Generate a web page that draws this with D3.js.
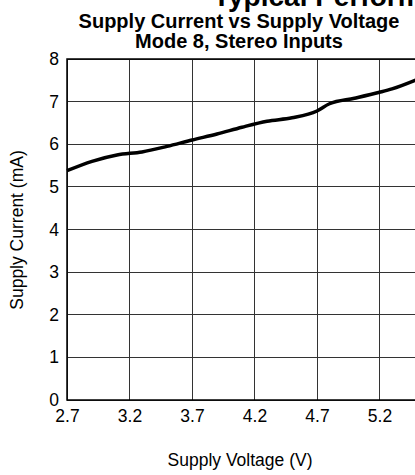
<!DOCTYPE html>
<html><head><meta charset="utf-8">
<script src="https://cdn.jsdelivr.net/npm/d3@7"></script>
<style>html,body{margin:0;padding:0;background:#fff;overflow:hidden}svg{display:block}</style>
</head><body>
<script>
const titleMain = "Typical Performance Characteristics";
const titleLines = ["Supply Current vs Supply Voltage", "Mode 8, Stereo Inputs"];
const xLabel = "Supply Voltage (V)";
const yLabel = "Supply Current (mA)";
const xTicks = [2.7, 3.2, 3.7, 4.2, 4.7, 5.2, 5.7];
const xTickLabels = [2.7, 3.2, 3.7, 4.2, 4.7, 5.2];
const yTicks = [0, 1, 2, 3, 4, 5, 6, 7, 8];
const voltage = [2.7, 2.9, 3.1, 3.3, 3.5, 3.7, 3.9, 4.1, 4.3, 4.5, 4.7, 4.8, 5.0, 5.2, 5.3, 5.5];
const current = [5.38, 5.6, 5.75, 5.82, 5.95, 6.1, 6.24, 6.4, 6.54, 6.62, 6.78, 6.95, 7.08, 7.22, 7.3, 7.52];

const W = 415, H = 475;
const svg = d3.select("body").append("svg").attr("width", W).attr("height", H);
const font = "Liberation Sans, Arial, sans-serif";

const x = d3.scaleLinear().domain([2.7, 5.7]).range([67, 442]);
const y = d3.scaleLinear().domain([0, 8]).range([400, 59]);

// grid
svg.append("g").selectAll("line").data(xTicks).join("line")
  .attr("x1", d => x(d)).attr("x2", d => x(d)).attr("y1", y(8)).attr("y2", y(0))
  .attr("stroke", "#333").attr("stroke-width", 1).attr("shape-rendering", "crispEdges");
svg.append("g").selectAll("line").data(yTicks).join("line")
  .attr("x1", x(2.7)).attr("x2", x(5.7)).attr("y1", d => y(d)).attr("y2", d => y(d))
  .attr("stroke", "#333").attr("stroke-width", 1).attr("shape-rendering", "crispEdges");

// frame
svg.append("rect").attr("x", x(2.7)).attr("y", y(8)).attr("width", x(5.7) - x(2.7)).attr("height", y(0) - y(8))
  .attr("fill", "none").attr("stroke", "#000").attr("stroke-width", 1.5);

// axes (labels only)
const xAxis = d3.axisBottom(x).tickValues(xTickLabels).tickFormat(d3.format(".1f")).tickSize(0).tickPadding(10);
const gx = svg.append("g").attr("transform", `translate(0,${y(0)})`).call(xAxis);
gx.select(".domain").remove();
gx.selectAll("text").attr("font-family", font).attr("font-size", 17.5).attr("fill", "#000");

const yAxis = d3.axisLeft(y).tickValues(yTicks).tickFormat(d3.format("d")).tickSize(0).tickPadding(8);
const gy = svg.append("g").attr("transform", `translate(${x(2.7)},0)`).call(yAxis);
gy.select(".domain").remove();
gy.selectAll("text").attr("font-family", font).attr("font-size", 17.5).attr("fill", "#000");

// line
const pts = voltage.map((v, i) => [v, current[i]]);
svg.append("path").datum(pts)
  .attr("d", d3.line().x(d => x(d[0])).y(d => y(d[1])).curve(d3.curveMonotoneX))
  .attr("fill", "none").attr("stroke", "#000").attr("stroke-width", 3.5).attr("stroke-linejoin", "round");

// titles
svg.append("text").attr("x", 213).attr("y", 6).attr("font-family", font).attr("font-weight", "bold")
  .attr("font-size", 28).text(titleMain);
svg.append("text").attr("x", 239).attr("y", 28).attr("text-anchor", "middle").attr("font-family", font)
  .attr("font-weight", "bold").attr("font-size", 20).text(titleLines[0]);
svg.append("text").attr("x", 239).attr("y", 47.5).attr("text-anchor", "middle").attr("font-family", font)
  .attr("font-weight", "bold").attr("font-size", 20).text(titleLines[1]);

svg.append("text").attr("x", 240).attr("y", 466).attr("text-anchor", "middle").attr("font-family", font)
  .attr("font-size", 17.5).text(xLabel);
svg.append("text").attr("transform", "translate(23,230) rotate(-90)").attr("text-anchor", "middle")
  .attr("font-family", font).attr("font-size", 17.5).text(yLabel);
</script>
</body></html>
